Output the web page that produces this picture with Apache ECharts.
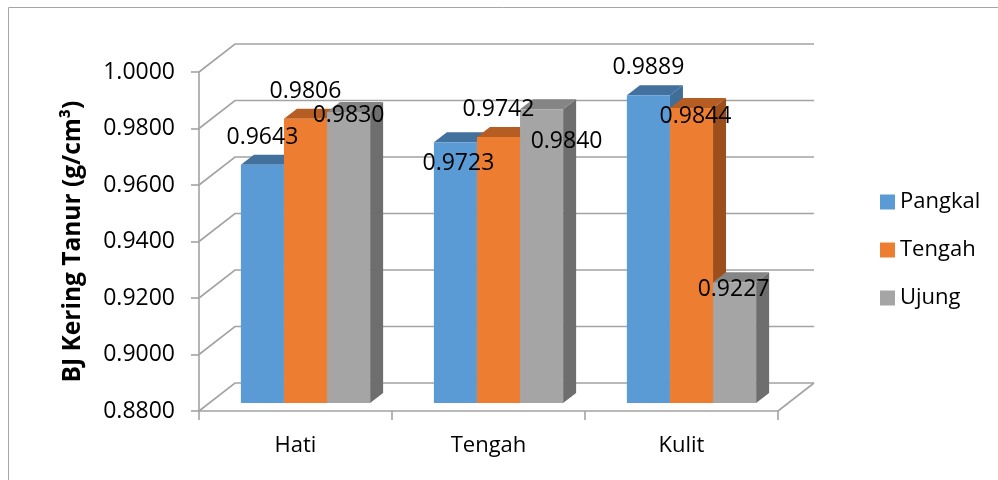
<!DOCTYPE html>
<html>
<head>
<meta charset="utf-8">
<script src="https://cdn.jsdelivr.net/npm/echarts@6/dist/echarts.min.js"></script>
<style>html,body{margin:0;padding:0;background:#fff;}#c{width:998px;height:480px;}</style>
</head>
<body>
<div id="c"></div>
<script>
const categories = ['Hati', 'Tengah', 'Kulit'];
const seriesNames = ['Pangkal', 'Tengah', 'Ujung'];
const pangkal = [0.9643, 0.9723, 0.9889];
const tengah = [0.9806, 0.9742, 0.9844];
const ujung = [0.9830, 0.9840, 0.9227];
const yTickValues = [0.88, 0.90, 0.92, 0.94, 0.96, 0.98, 1.00];
const yTitle = 'BJ Kering Tanur (g/cm\u00B3)';

// styling (not data)
const FONT = '"Open Sans", Lato, sans-serif';
const FS = 23;
const faceColors = ['#5B9BD5', '#ED7D31', '#A5A5A5'];
const topColors = ['#41719C', '#B55D22', '#858585'];
const sideColors = ['#3F6E98', '#9C4F1D', '#6E6E6E'];
// label nudges relative to the bar's front-top centre (Excel 3D placement)
const labelNudge = [
  [[0, -27], [3, 21], [0, -28]],
  [[0, -27], [0, -27], [4, 8]],
  [[0, 3], [25, 32], [-1, 7]]
];
const DX = 13, DY = -10;      // bar depth
const WX = 36, WY = -28;      // wall depth
const GRID_COLOR = '#a3a3a3';

const allValues = [pangkal, tengah, ujung];

function barGeom(api, s) {
  const ci = api.value(0), v = api.value(1);
  const top = api.coord([ci, v]);
  const base = api.coord([ci, 0.88]);
  const band = api.size([1, 0])[0];
  const w = band * 0.2232;
  const x0 = top[0] - 1.5 * w + s * w;
  return {x0: x0, x1: x0 + w, yt: top[1], yb: base[1], w: w, v: v, ci: ci};
}

function barRender(s) {
  return function (params, api) {
    const g = barGeom(api, s);
    return {
      type: 'group',
      children: [
        {type: 'polygon', shape: {points: [[g.x1, g.yt], [g.x1 + DX, g.yt + DY], [g.x1 + DX, g.yb + DY], [g.x1, g.yb]]},
         style: {fill: sideColors[s]}},
        {type: 'polygon', shape: {points: [[g.x0, g.yt], [g.x0 + DX, g.yt + DY], [g.x1 + DX, g.yt + DY], [g.x1, g.yt]]},
         style: {fill: topColors[s]}},
        {type: 'rect', shape: {x: g.x0, y: g.yt, width: g.w, height: g.yb - g.yt},
         style: {fill: faceColors[s]}}
      ]
    };
  };
}

function labelRender(s) {
  return function (params, api) {
    const g = barGeom(api, s);
    const n = labelNudge[s][g.ci];
    return {
      type: 'text',
      style: {
        text: g.v.toFixed(4), x: (g.x0 + g.x1) / 2 + n[0], y: g.yt + n[1],
        align: 'center', verticalAlign: 'middle', fill: '#000',
        font: FS + 'px ' + FONT
      }
    };
  };
}

function gridRender(params, api) {
  const v = api.value(1);
  const p = api.coord([0, v]);
  const band = api.size([1, 0])[0];
  const xl = p[0] - band / 2;
  const xr = xl + 3 * band;
  const children = [
    {type: 'polyline', shape: {points: [[xl, p[1]], [xl + WX, p[1] + WY], [xr + WX, p[1] + WY]]},
     style: {stroke: GRID_COLOR, lineWidth: 1.6, fill: null}}
  ];
  if (params.dataIndex === 0) {
    children.push({type: 'line', shape: {x1: xr, y1: p[1], x2: xr + WX, y2: p[1] + WY},
      style: {stroke: GRID_COLOR, lineWidth: 1.6}});
  }
  return {type: 'group', children: children};
}

const series = [];
series.push({
  type: 'custom', name: 'grid', xAxisIndex: 1, yAxisIndex: 1, z: 1, silent: true,
  data: yTickValues.map(v => [0, v]), renderItem: gridRender, encode: {x: 0, y: 1}
});
allValues.forEach((vals, s) => {
  series.push({
    type: 'custom', name: seriesNames[s], xAxisIndex: 0, yAxisIndex: 0, z: 3,
    itemStyle: {color: faceColors[s]},
    data: vals.map((v, i) => [i, v]), renderItem: barRender(s), encode: {x: 0, y: 1}
  });
});
allValues.forEach((vals, s) => {
  series.push({
    type: 'custom', name: 'label' + s, xAxisIndex: 0, yAxisIndex: 0, z: 6, silent: true,
    data: vals.map((v, i) => [i, v]), renderItem: labelRender(s), encode: {x: 0, y: 1}
  });
});

const chart = echarts.init(document.getElementById('c'), null, {renderer: 'canvas'});
chart.setOption({
  animation: false,
  backgroundColor: '#fff',
  textStyle: {fontFamily: FONT},
  graphic: [{
    type: 'rect', z: 0, silent: true,
    shape: {x: 8.5, y: 7.5, width: 1100, height: 600},
    style: {fill: null, stroke: '#a6a6a6', lineWidth: 1}
  }],
  legend: {
    data: seriesNames, orient: 'vertical', left: 875, top: 186,
    itemWidth: 15, itemHeight: 15, itemGap: 26, icon: 'rect', itemTextGap: 6,
    textStyle: {fontSize: 22, fontFamily: FONT, color: '#000', lineHeight: 22, padding: [0, 0, 0, 0]},
    selectedMode: false
  },
  grid: [
    {left: 209, right: 210, top: 64, bottom: 77},
    {left: 199, right: 220, top: 72, bottom: 69}
  ],
  xAxis: [
    {type: 'category', gridIndex: 0, data: categories, show: false},
    {type: 'category', gridIndex: 1, data: categories,
     axisLine: {show: true, lineStyle: {color: GRID_COLOR, width: 1.6}},
     axisTick: {show: true, length: 9, lineStyle: {color: GRID_COLOR, width: 1.6}},
     axisLabel: {fontSize: 22, color: '#000', margin: 24, fontFamily: FONT}}
  ],
  yAxis: [
    {type: 'value', gridIndex: 0, min: 0.88, max: 1.0, interval: 0.02, show: false},
    {type: 'value', gridIndex: 1, min: 0.88, max: 1.0, interval: 0.02,
     name: yTitle, nameLocation: 'middle', nameGap: 113,
     nameTextStyle: {fontSize: 24.5, fontWeight: 'bold', color: '#000', fontFamily: FONT},
     axisLine: {show: true, lineStyle: {color: GRID_COLOR, width: 1.6}},
     axisTick: {show: true, length: 8, lineStyle: {color: GRID_COLOR, width: 1.6}},
     splitLine: {show: false},
     axisLabel: {fontSize: FS, color: '#000', margin: 24, fontFamily: FONT,
                 formatter: v => v.toFixed(4)}}
  ],
  series: series
});
</script>
</body>
</html>
